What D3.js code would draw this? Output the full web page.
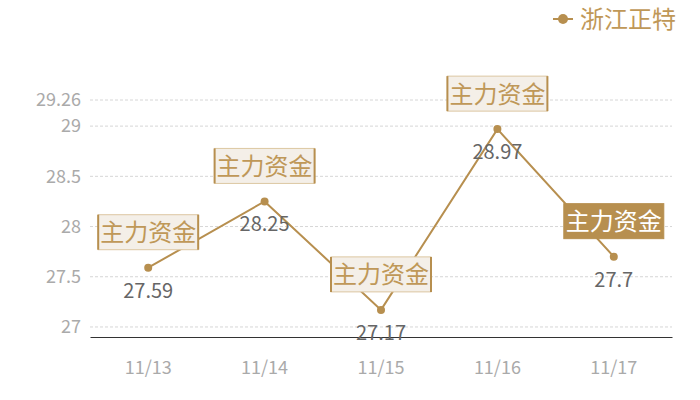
<!DOCTYPE html>
<html>
<head>
<meta charset="utf-8">
<script src="https://cdn.jsdelivr.net/npm/d3@7"></script>
<style>
  body { margin: 0; background: #fff; }
  svg { font-family: "Noto Sans CJK SC", "Open Sans", sans-serif; }
</style>
</head>
<body>
<svg id="chart" width="700" height="400"></svg>
<script>
// chart data
const dates = ['11/13', '11/14', '11/15', '11/16', '11/17'];
const prices = [27.59, 28.25, 27.17, 28.97, 27.7];
const yTicks = [27, 27.5, 28, 28.5, 29, 29.26];
const seriesName = '浙江正特';
const markLabel = '主力资金';

const gold = '#b78f4f';
const width = 700;
const height = 400;
const margin = {top: 100, right: 28, bottom: 63, left: 90};

const svg = d3.select('#chart');

const x = d3.scaleBand()
    .domain(dates)
    .range([margin.left, width - margin.right]);

const y = d3.scaleLinear()
    .domain([26.9, 29.26])
    .range([height - margin.bottom, margin.top]);

// grid lines
svg.append('g')
    .selectAll('line')
    .data(yTicks)
    .join('line')
    .attr('x1', margin.left)
    .attr('x2', width - margin.right)
    .attr('y1', (d) => y(d))
    .attr('y2', (d) => y(d))
    .attr('stroke', '#d6d6d6')
    .attr('stroke-dasharray', '3,2');

// y axis labels
const yAxis = svg.append('g')
    .attr('transform', `translate(${margin.left},0)`)
    .call(d3.axisLeft(y).tickValues(yTicks).tickSize(0).tickPadding(9)
        .tickFormat((d) => String(d)));
yAxis.select('.domain').remove();
yAxis.selectAll('text')
    .attr('fill', '#aaa')
    .attr('font-family', '"Noto Sans CJK SC", sans-serif')
    .attr('font-size', 18);

// x axis
const xAxis = svg.append('g')
    .attr('transform', `translate(0,${height - margin.bottom})`)
    .call(d3.axisBottom(x).tickSize(0).tickPadding(24));
xAxis.select('.domain').attr('stroke', '#333');
xAxis.selectAll('text')
    .attr('fill', '#aaa')
    .attr('font-family', '"Noto Sans CJK SC", sans-serif')
    .attr('font-size', 18);

const points = dates.map((d, i) => ({date: d, value: prices[i]}));
const cx = (d) => x(d.date) + x.bandwidth() / 2;

const line = d3.line()
    .x(cx)
    .y((d) => y(d.value));

svg.append('path')
    .datum(points)
    .attr('fill', 'none')
    .attr('stroke', gold)
    .attr('stroke-width', 2)
    .attr('d', line);

svg.append('g')
    .selectAll('circle')
    .data(points)
    .join('circle')
    .attr('cx', cx)
    .attr('cy', (d) => y(d.value))
    .attr('r', 4)
    .attr('fill', gold);

// value labels
svg.append('g')
    .selectAll('text')
    .data(points)
    .join('text')
    .attr('x', cx)
    .attr('y', (d) => y(d.value) + 30)
    .attr('text-anchor', 'middle')
    .attr('fill', '#666')
    .attr('font-size', 20)
    .text((d) => d.value);

// mark label boxes
const boxW = 100;
const boxH = 35;
const boxes = svg.append('g')
    .selectAll('g')
    .data(points)
    .join('g')
    .attr('transform', (d) => `translate(${cx(d) - boxW / 2},${y(d.value) - 18 - boxH})`);

const last = points.length - 1;
boxes.append('rect')
    .attr('width', boxW)
    .attr('height', boxH)
    .attr('fill', (d, i) => i === last ? gold : '#f4efe8')
    .attr('stroke', (d, i) => i === last ? gold : '#dcc7a2')
    .attr('stroke-width', 1);
boxes.filter((d, i) => i !== last)
    .selectAll('line.side')
    .data([0, boxW])
    .join('line')
    .attr('x1', (d) => d)
    .attr('x2', (d) => d)
    .attr('y1', 0)
    .attr('y2', boxH)
    .attr('stroke', gold)
    .attr('stroke-width', 2);
boxes.append('text')
    .attr('x', boxW / 2)
    .attr('y', boxH / 2 + 9)
    .attr('text-anchor', 'middle')
    .attr('font-size', 24)
    .attr('fill', (d, i) => i === last ? '#fff' : '#bf9858')
    .text(markLabel);

// legend
const legend = svg.append('g').attr('transform', 'translate(553,19)');
legend.append('line')
    .attr('x1', 0).attr('x2', 20)
    .attr('stroke', gold).attr('stroke-width', 2);
legend.append('circle')
    .attr('cx', 10).attr('r', 5).attr('fill', gold);
legend.append('text')
    .attr('x', 27)
    .attr('y', 9)
    .attr('font-size', 24)
    .attr('fill', '#bf9858')
    .text(seriesName);
</script>
</body>
</html>
